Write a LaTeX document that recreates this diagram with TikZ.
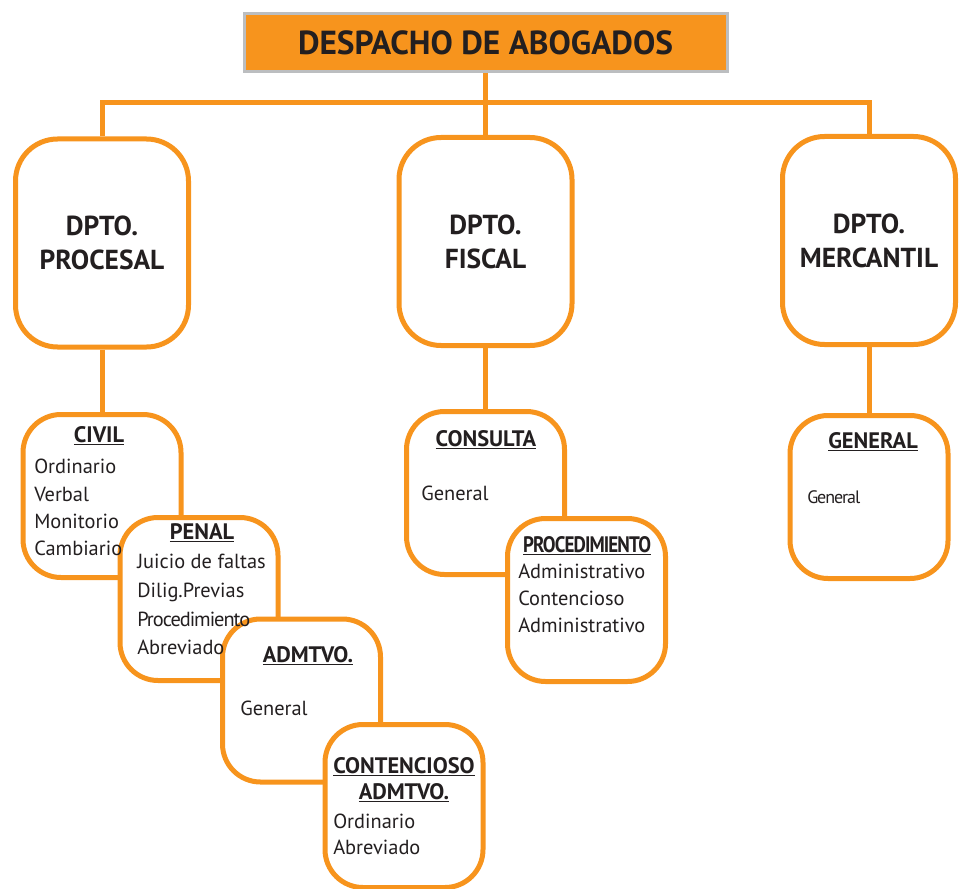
\documentclass[tikz,border=0pt]{standalone}
\usepackage{fontspec}
\setmainfont{PT Sans}
\usetikzlibrary{positioning}
\definecolor{naranja}{HTML}{F7941D}
\definecolor{gris}{HTML}{BCBEC0}
\definecolor{tinta}{HTML}{231F20}
\newcommand{\subrayado}[1]{\underline{#1}}
\tikzset{
  titulo/.style={draw=gris,line width=2.25pt,fill=naranja,minimum width=362.25pt,minimum height=43.5pt,font=\fontsize{25}{30}\selectfont\bfseries},
  dpto/.style={draw=naranja,line width=3.75pt,fill=white,rounded corners=31.5pt,minimum width=129.75pt,minimum height=156pt,align=center,font=\fontsize{20.6}{25.5}\selectfont\bfseries},
  area/.style={draw=naranja,line width=3.75pt,fill=white,rounded corners=28.5pt,minimum width=118.5pt,minimum height=122.25pt},
  cabecera/.style={anchor=base,inner sep=0pt,font=\fontsize{16.8}{19.5}\selectfont\bfseries},
  lista/.style={anchor=north west,inner sep=0pt,align=left,font=\fontsize{15.3}{#1}\selectfont},
  linea/.style={draw=naranja,line width=3.75pt},
}

\begin{document}
\begin{tikzpicture}[x=0.75pt,y=-0.75pt,text=tinta]
	\useasboundingbox (0,0) rectangle (959,888);
	\clip (0,0) rectangle (959,888);

	\node[titulo] (despacho) at (485.5,42.5) {DESPACHO DE ABOGADOS};
	\node[dpto] (procesal) at (102,243) {DPTO.\\PROCESAL};
	\node[dpto] (fiscal) at (485.5,241.5) {DPTO.\\FISCAL};
	\node[dpto] (mercantil) at (869,240.5) {DPTO.\\MERCANTIL};
	\coordinate (bus) at (485.5,103);

	\draw[linea] (procesal.north) |- (bus) -| (mercantil.north);
	\draw[linea] (despacho.south) -- (fiscal.north);

	% procesal
	\node[area] (civil) at (102,496) {};
	\node[area] (penal) at (199,599) {};
	\node[area] (admtvo) at (301.5,700.5) {};
	\node[area] (contencioso) at (404,806) {};
	% fiscal
	\node[area] (consulta) at (485.5,493) {};
	\node[area] (procedimiento) at (586.5,600) {};
	% mercantil
	\node[area] (general) at (869,497) {};

	\draw[linea] (procesal.south) -- (civil.north);
	\draw[linea] (fiscal.south) -- (consulta.north);
	\draw[linea] (mercantil.south) -- (general.north);

	\node[cabecera] (civilcab) at (99,442) {\subrayado{CIVIL}};
	\node[lista=20.5] (civillista) at (34,459) {Ordinario\\Verbal\\Monitorio\\Cambiario};
	\node[cabecera] (penalcab) at (202,539) {\subrayado{PENAL}};
	\node[lista=21.5] (penallista) at (137,554) {Juicio de faltas\\Dilig.Previas\\{\addfontfeature{LetterSpace=-5}Procedimiento}\\Abreviado};
	\node[cabecera] (admtvocab) at (308,662) {\subrayado{ADMTVO.}};
	\node[lista=20] (admtvolista) at (240,701) {General};
	\node[cabecera] (contcab) at (404,773) {\subrayado{CONTENCIOSO}};
	\node[cabecera] (contcabdos) at (404,799) {\subrayado{ADMTVO.}};
	\node[lista=19.5] (contlista) at (333,814) {Ordinario\\Abreviado};

	\node[cabecera] (consultacab) at (486,446) {\subrayado{CONSULTA}};
	\node[lista=20] (consultalista) at (421,486) {General};
	\node[cabecera] (procedcab) at (587,552) {\addfontfeature{FakeStretch=0.85,LetterSpace=-4}\subrayado{PROCEDIMIENTO}};
	\node[lista=20.25] (procedlista) at (518,564) {Administrativo\\Contencioso\\Administrativo};

	\node[cabecera] (generalcab) at (873,448) {\subrayado{GENERAL}};
	\node[lista=15] (generallista) at (807,490) {\fontsize{13.5}{15}\selectfont\addfontfeature{LetterSpace=-6}General};
\end{tikzpicture}
\end{document}
